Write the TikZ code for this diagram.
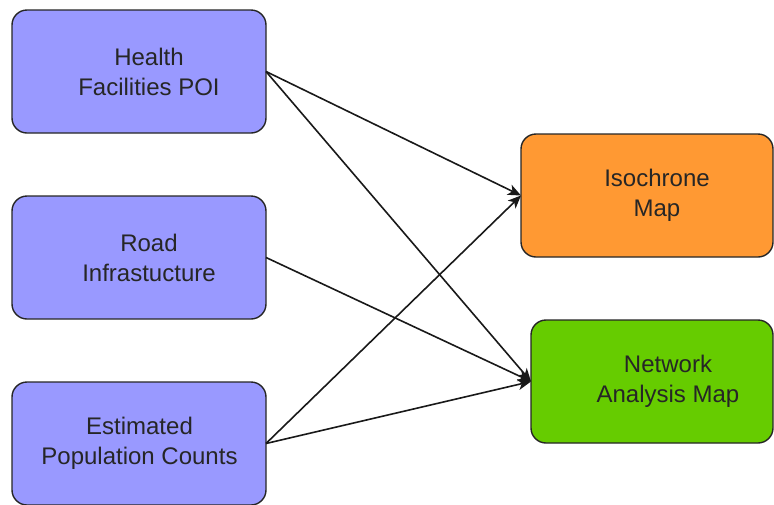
\documentclass[tikz,border=0pt]{standalone}
\usepackage{fontspec}
\setmainfont{Liberation Sans}
\usetikzlibrary{arrows.meta}
\definecolor{boxblue}{HTML}{9999FF}
\definecolor{boxorange}{HTML}{FF9933}
\definecolor{boxgreen}{HTML}{66CC00}
\definecolor{txt}{HTML}{262626}
\tikzset{
  box/.style={draw=black!85, line width=1.4pt, rounded corners=15pt, outer sep=0pt, inner sep=0pt},
  lbl/.style={text=txt, align=center, font=\fontsize{24}{30}\selectfont, inner sep=0pt},
  conn/.style={draw=black!90, line width=1.6pt, -{Stealth[length=13pt,width=11pt,inset=3.5pt]}}
}
\begin{document}
\begin{tikzpicture}[x=1pt,y=-1pt]
\useasboundingbox (0,0) rectangle (774,504);
\node[box, fill=boxblue, minimum width=254pt, minimum height=123pt] (hf) at (139,71.5) {};
\node[box, fill=boxblue, minimum width=254pt, minimum height=123pt] (ri) at (139,257.5) {};
\node[box, fill=boxblue, minimum width=254pt, minimum height=123pt] (pc) at (139,443.5) {};
\node[box, fill=boxorange, minimum width=252pt, minimum height=123pt] (iso) at (647,195.5) {};
\node[box, fill=boxgreen, minimum width=242pt, minimum height=123pt] (net) at (652,381.5) {};
\node[lbl] (hft) at (149,71.5) {Health\\Facilities POI};
\node[lbl] (rit) at (149,257.5) {Road\\Infrastucture};
\node[lbl] (pct) at (139.5,443.5) {Estimated\\Population Counts};
\node[lbl] (isot) at (657,195.5) {Isochrone\\Map};
\node[lbl] (nett) at (668,381.5) {Network\\Analysis Map};
\draw[conn] (hf.east) -- (iso.west);
\draw[conn] (hf.east) -- (net.west);
\draw[conn] (ri.east) -- (net.west);
\draw[conn] (pc.east) -- (iso.west);
\draw[conn] (pc.east) -- (net.west);
\end{tikzpicture}
\end{document}
